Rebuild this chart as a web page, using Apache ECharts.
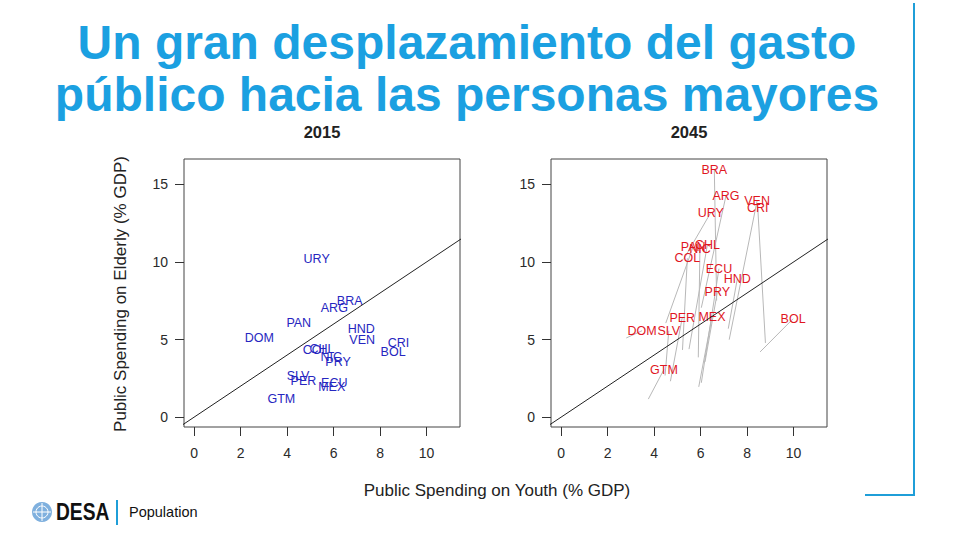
<!DOCTYPE html>
<html>
<head>
<meta charset="utf-8">
<script src="https://cdn.jsdelivr.net/npm/echarts@6/dist/echarts.min.js"></script>
<style>
html,body{margin:0;padding:0;background:#fff;}
#c{width:960px;height:540px;}
</style>
</head>
<body>
<div id="c"></div>
<script>
// ---- data ----
const countries   = ['URY','BRA','ARG','PAN','DOM','HND','VEN','CRI','BOL','CHL','COL','NIC','PRY','SLV','PER','ECU','MEX','GTM'];
const youth2015   = [5.27, 6.69, 6.03, 4.50, 2.80, 7.19, 7.23, 8.79, 8.56, 5.50, 5.22, 5.90, 6.19, 4.47, 4.70, 6.03, 5.92, 3.75];
const elderly2015 = [10.17, 7.51, 7.05, 6.06, 5.10, 5.70, 4.99, 4.78, 4.20, 4.38, 4.33, 3.85, 3.56, 2.68, 2.31, 2.21, 1.95, 1.16];
const youth2045   = [6.44, 6.59, 7.09, 5.68, 3.48, 7.58, 8.43, 8.46, 9.98, 6.29, 5.43, 5.97, 6.72, 4.63, 5.21, 6.79, 6.49, 4.42];
const elderly2045 = [13.19, 15.95, 14.26, 10.99, 5.57, 8.91, 13.94, 13.49, 6.34, 11.09, 10.24, 10.82, 8.05, 5.57, 6.42, 9.57, 6.45, 3.06];
const xTicks = [0, 2, 4, 6, 8, 10];
const yTicks = [0, 5, 10, 15];
const refLine = [-1, 12];           // y = x reference line
const panelTitles = ['2015', '2045'];

const chart = echarts.init(document.getElementById('c'), null, {renderer: 'svg'});

const XMIN = -0.44, XMAX = 11.44, YMIN = -0.64, YMAX = 16.64;
const tickColor = '#333';

function xAx(i) {
  return {
    type: 'value', gridIndex: i, min: XMIN, max: XMAX,
    axisLine: {show: false, onZero: false},
    splitLine: {show: false},
    axisTick: {show: true, inside: false, length: 9, customValues: xTicks, lineStyle: {color: tickColor, width: 1}},
    axisLabel: {show: true, customValues: xTicks, fontSize: 14, color: '#2a2a2a', margin: 19, fontFamily: 'Liberation Sans, Arial, sans-serif'}
  };
}
function yAx(i) {
  return {
    type: 'value', gridIndex: i, min: YMIN, max: YMAX,
    axisLine: {show: false, onZero: false},
    splitLine: {show: false},
    axisTick: {show: true, inside: false, length: 9, customValues: yTicks, lineStyle: {color: tickColor, width: 1}},
    axisLabel: {show: true, customValues: yTicks, fontSize: 14, color: '#2a2a2a', margin: 16, fontFamily: 'Liberation Sans, Arial, sans-serif'}
  };
}

const labelStyle = (color) => ({
  show: true, position: 'inside', formatter: '{b}', color: color, opacity: 1,
  textBorderWidth: 0, fontSize: 12.5, fontFamily: 'Liberation Sans, Arial, sans-serif'
});

const pts2015 = countries.map((c, i) => ({name: c, value: [youth2015[i], elderly2015[i]]}));
const pts2045 = countries.map((c, i) => ({name: c, value: [youth2045[i], elderly2045[i]]}));
const segs = countries.map((c, i) => ({coords: [[youth2015[i], elderly2015[i]], [youth2045[i], elderly2045[i]]]}));
const refData = refLine.map(v => [v, v]);

const option = {
  animation: false,
  backgroundColor: '#fff',
  grid: [
    {left: 184, top: 159, width: 276, height: 268, show: true, borderColor: '#444', borderWidth: 1, backgroundColor: 'transparent'},
    {left: 551, top: 159, width: 276, height: 268, show: true, borderColor: '#444', borderWidth: 1, backgroundColor: 'transparent'}
  ],
  xAxis: [xAx(0), xAx(1)],
  yAxis: [yAx(0), yAx(1)],
  series: [
    {
      type: 'line', xAxisIndex: 0, yAxisIndex: 0, data: refData, symbol: 'none', clip: true,
      lineStyle: {color: '#222', width: 1}, silent: true
    },
    {
      type: 'scatter', xAxisIndex: 0, yAxisIndex: 0, data: pts2015, symbolSize: 1,
      itemStyle: {color: 'transparent', opacity: 1}, label: labelStyle('#2626c0'), silent: true
    },
    {
      type: 'lines', coordinateSystem: 'cartesian2d', xAxisIndex: 1, yAxisIndex: 1, data: segs,
      lineStyle: {color: '#b8b8b8', width: 1, opacity: 1}, silent: true
    },
    {
      type: 'line', xAxisIndex: 1, yAxisIndex: 1, data: refData, symbol: 'none', clip: true,
      lineStyle: {color: '#222', width: 1}, silent: true
    },
    {
      type: 'scatter', xAxisIndex: 1, yAxisIndex: 1, data: pts2045, symbolSize: 1,
      itemStyle: {color: 'transparent', opacity: 1}, label: labelStyle('#e0161f'), silent: true
    }
  ],
  graphic: [
    {type: 'text', x: 467, y: 42, style: {text: 'Un gran desplazamiento del gasto', fill: '#1BA0E1', font: 'bold 48px "Liberation Sans", Arial, sans-serif', textAlign: 'center', textVerticalAlign: 'middle'}},
    {type: 'text', x: 467, y: 94, style: {text: 'público hacia las personas mayores', fill: '#1BA0E1', font: 'bold 48px "Liberation Sans", Arial, sans-serif', textAlign: 'center', textVerticalAlign: 'middle'}},
    {type: 'text', x: 322, y: 132, style: {text: panelTitles[0], fill: '#222', font: 'bold 16.5px "Liberation Sans", Arial, sans-serif', textAlign: 'center', textVerticalAlign: 'middle'}},
    {type: 'text', x: 689, y: 132, style: {text: panelTitles[1], fill: '#222', font: 'bold 16.5px "Liberation Sans", Arial, sans-serif', textAlign: 'center', textVerticalAlign: 'middle'}},
    {type: 'text', x: 497, y: 490, style: {text: 'Public Spending on Youth (% GDP)', fill: '#222', font: '17px "Liberation Sans", Arial, sans-serif', textAlign: 'center', textVerticalAlign: 'middle'}},
    {type: 'text', x: 120, y: 294, rotation: Math.PI / 2, style: {text: 'Public Spending on Elderly (% GDP)', fill: '#222', font: '17px "Liberation Sans", Arial, sans-serif', textAlign: 'center', textVerticalAlign: 'middle'}},
    // right frame lines
    {type: 'line', shape: {x1: 914, y1: 3, x2: 914, y2: 495}, style: {stroke: '#1F9ED8', lineWidth: 2}},
    {type: 'line', shape: {x1: 865, y1: 495, x2: 915, y2: 495}, style: {stroke: '#1F9ED8', lineWidth: 2}},
    // footer: UN emblem
    {type: 'circle', shape: {cx: 42, cy: 512, r: 10}, style: {fill: '#7fb0de'}},
    {type: 'circle', shape: {cx: 42, cy: 512, r: 6}, style: {fill: 'none', stroke: '#ffffff', lineWidth: 1}},
    {type: 'line', shape: {x1: 42, y1: 503, x2: 42, y2: 521}, style: {stroke: '#ffffff', lineWidth: 1}},
    {type: 'line', shape: {x1: 33, y1: 512, x2: 51, y2: 512}, style: {stroke: '#ffffff', lineWidth: 1}},
    {type: 'text', x: 56, y: 512, scaleX: 0.8, style: {text: 'DESA', fill: '#111', font: 'bold 24px "Liberation Sans", Arial, sans-serif', textAlign: 'left', textVerticalAlign: 'middle'}},
    {type: 'line', shape: {x1: 117, y1: 500, x2: 117, y2: 525}, style: {stroke: '#1F9ED8', lineWidth: 2}},
    {type: 'text', x: 129, y: 512, style: {text: 'Population', fill: '#111', font: '14.5px "Liberation Sans", Arial, sans-serif', textAlign: 'left', textVerticalAlign: 'middle'}}
  ]
};
chart.setOption(option);
</script>
</body>
</html>
